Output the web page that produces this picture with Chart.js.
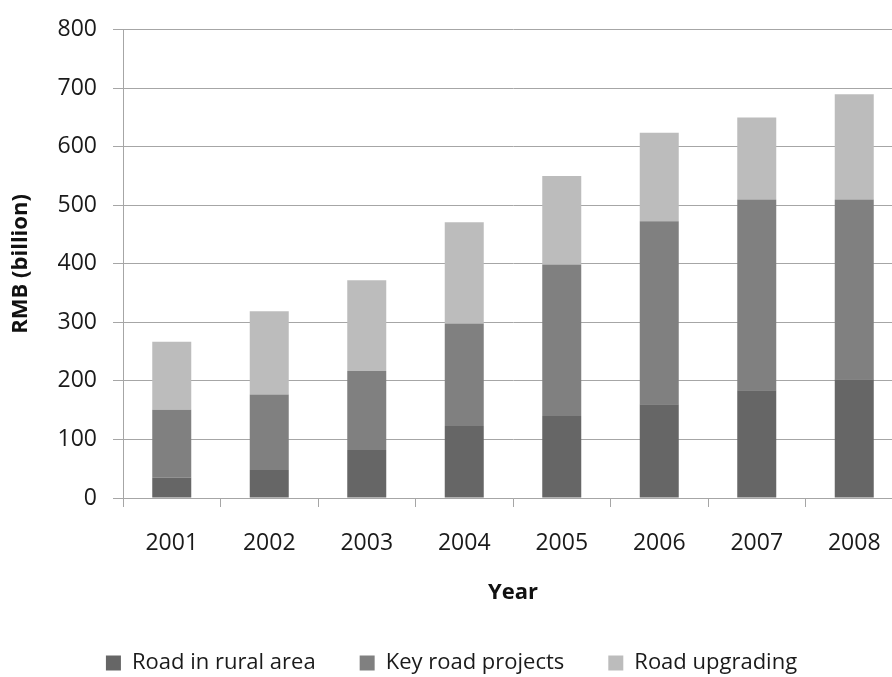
<!DOCTYPE html>
<html lang="en">
<head>
<meta charset="utf-8">
<title>Road investment by year</title>
<script src="https://cdn.jsdelivr.net/npm/chart.js@4"></script>
<style>
    html, body { margin: 0; padding: 0; background: #ffffff; overflow: hidden; }
    #chartWrap { width: 912px; height: 677px; }
</style>
</head>
<body>
<div id="chartWrap">
    <canvas id="roadChart" width="912" height="677"></canvas>
</div>
<script>
// Anos no eixo X
const years = ['2001', '2002', '2003', '2004', '2005', '2006', '2007', '2008'];

// Investimento por tipo de obra (RMB, bilhões)
const ruralRoads = [35, 48, 82, 123, 140, 160, 184, 203];
const keyRoadProjects = [116, 129, 135, 175, 259, 313, 326, 307];
const roadUpgrading = [116, 142, 155, 173, 151, 151, 140, 180];

// Rótulos das séries
const seriesNames = ['Road in rural area', 'Key road projects', 'Road upgrading'];

// Escala Y
const yMin = 0;
const yMax = 800;
const yStep = 100;

document.addEventListener('DOMContentLoaded', function () {
    Chart.defaults.font.family = '"Open Sans", "DejaVu Sans", sans-serif';
    Chart.defaults.color = '#1a1a1a';

    const gridGray = '#a6a6a6';
    const ctx = document.getElementById('roadChart').getContext('2d');

    /**
     * Monta um dataset de barra empilhada
     */
    function makeDataset(label, values, color) {
        return {
            label: label,
            data: values,
            backgroundColor: color,
            borderWidth: 0,
            categoryPercentage: 0.4,
            barPercentage: 1.0
        };
    }

    window.roadChart = new Chart(ctx, {
        type: 'bar',
        data: {
            labels: years,
            datasets: [
                makeDataset(seriesNames[0], ruralRoads, '#666666'),
                makeDataset(seriesNames[1], keyRoadProjects, '#808080'),
                makeDataset(seriesNames[2], roadUpgrading, '#bcbcbc')
            ]
        },
        options: {
            responsive: false,
            animation: false,
            layout: { padding: { top: 29, right: 9, bottom: 0, left: 0 } },
            plugins: {
                tooltip: { enabled: false },
                legend: {
                    position: 'bottom',
                    maxHeight: 69,
                    labels: {
                        boxWidth: 15,
                        boxHeight: 15,
                        padding: 44,
                        color: '#1a1a1a',
                        font: { size: 22 }
                    }
                }
            },
            scales: {
                x: {
                    stacked: true,
                    offset: true,
                    grid: {
                        offset: true,
                        drawOnChartArea: false,
                        drawTicks: true,
                        tickLength: 9,
                        color: gridGray
                    },
                    border: { color: gridGray, width: 1 },
                    ticks: { padding: 23, font: { size: 23 }, color: '#1a1a1a' },
                    title: {
                        display: true,
                        text: 'Year',
                        font: { size: 22, weight: 'bold' },
                        color: '#111111',
                        padding: { top: -1, bottom: 2 }
                    }
                },
                y: {
                    stacked: true,
                    min: yMin,
                    max: yMax,
                    grid: {
                        color: gridGray,
                        lineWidth: 1,
                        tickLength: 10
                    },
                    border: { color: gridGray, width: 1 },
                    ticks: { stepSize: yStep, padding: 16, font: { size: 23 }, color: '#1a1a1a' },
                    title: {
                        display: true,
                        text: 'RMB (billion)',
                        font: { size: 22, weight: 'bold' },
                        color: '#111111',
                        padding: { top: 8, bottom: 0 }
                    },
                    // largura fixa do eixo para alinhar a área do gráfico
                    afterFit: function (scale) {
                        scale.width = 123;
                    }
                }
            }
        }
    });
});
</script>
</body>
</html>
